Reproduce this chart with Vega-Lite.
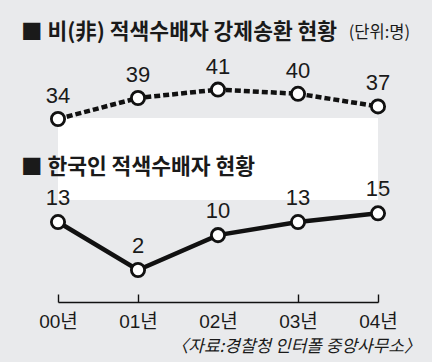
{
  "$schema": "https://vega.github.io/schema/vega-lite/v6.json",
  "width": 320,
  "height": 302,
  "autosize": {"type": "none"},
  "padding": {"left": 58, "top": 0, "right": 54, "bottom": 60},
  "background": "#e9eaec",
  "config": {"view": {"stroke": null}},
  "datasets": {
    "foreign": [
      {"year": "00년", "count": 34},
      {"year": "01년", "count": 39},
      {"year": "02년", "count": 41},
      {"year": "03년", "count": 40},
      {"year": "04년", "count": 37}
    ],
    "korean": [
      {"year": "00년", "count": 13},
      {"year": "01년", "count": 2},
      {"year": "02년", "count": 10},
      {"year": "03년", "count": 13},
      {"year": "04년", "count": 15}
    ]
  },
  "layer": [
    {
      "data": {"values": [{}]},
      "mark": {"type": "rect", "color": "white"},
      "encoding": {
        "x": {"datum": "00년", "type": "ordinal", "scale": {"type": "point", "padding": 0, "domain": ["00년", "01년", "02년", "03년", "04년"]},
          "axis": {
            "title": null,
            "domainColor": "#111",
            "domainWidth": 1.6,
            "tickColor": {"condition": {"test": "datum.value === '02년'", "value": "transparent"}, "value": "#111"},
            "tickWidth": 1.4,
            "tickSize": -8,
            "labelPadding": 18,
            "labelFont": "Liberation Sans, Noto Sans CJK KR",
            "labelFontSize": 19,
            "labelColor": "#1a1a1a",
            "labelAngle": 0,
            "grid": false
          }
        },
        "x2": {"datum": "04년"},
        "y": {"datum": 18.05, "type": "quantitative", "scale": {"domain": [-5.34, 63.93], "nice": false, "zero": false}, "axis": null},
        "y2": {"datum": 36.86}
      }
    },
    {
      "layer": [
        {
          "data": {"name": "foreign"},
          "mark": {"type": "line", "color": "#111", "strokeWidth": 4.5, "strokeDash": [6, 3]},
          "encoding": {
            "x": {"field": "year", "type": "ordinal"},
            "y": {"field": "count", "type": "quantitative"}
          }
        },
        {
          "data": {"name": "foreign"},
          "mark": {"type": "point", "filled": true, "fill": "white", "stroke": "#111", "strokeWidth": 2.8, "size": 175, "opacity": 1},
          "encoding": {
            "x": {"field": "year", "type": "ordinal"},
            "y": {"field": "count", "type": "quantitative"}
          }
        },
        {
          "data": {"name": "foreign"},
          "mark": {"type": "text", "dy": -23, "font": "Liberation Sans", "fontSize": 22, "color": "#1a1a1a", "baseline": "middle"},
          "encoding": {
            "x": {"field": "year", "type": "ordinal"},
            "y": {"field": "count", "type": "quantitative"},
            "text": {"field": "count"}
          }
        },
        {
          "data": {"values": [{"t": "■ 비(非) 적색수배자 강제송환 현황"}]},
          "mark": {"type": "text", "align": "left", "baseline": "middle", "dx": -37, "font": "Noto Sans CJK KR", "fontWeight": "bold", "fontSize": 21.5, "color": "#1a1a1a"},
          "encoding": {
            "x": {"datum": "00년", "type": "ordinal"},
            "y": {"datum": 54.5, "type": "quantitative"},
            "text": {"field": "t"}
          }
        },
        {
          "data": {"values": [{"t": "(단위:명)"}]},
          "mark": {"type": "text", "align": "right", "baseline": "middle", "dx": 32, "font": "Noto Sans CJK KR", "fontSize": 16.5, "color": "#1a1a1a"},
          "encoding": {
            "x": {"datum": "04년", "type": "ordinal"},
            "y": {"datum": 54.5, "type": "quantitative"},
            "text": {"field": "t"}
          }
        }
      ],
      "encoding": {
        "y": {"type": "quantitative", "scale": {"domain": [-9.57, 62.33], "nice": false, "zero": false}, "axis": null}
      }
    },
    {
      "layer": [
        {
          "data": {"name": "korean"},
          "mark": {"type": "line", "color": "#111", "strokeWidth": 4.5},
          "encoding": {
            "x": {"field": "year", "type": "ordinal"},
            "y": {"field": "count", "type": "quantitative"}
          }
        },
        {
          "data": {"name": "korean"},
          "mark": {"type": "point", "filled": true, "fill": "white", "stroke": "#111", "strokeWidth": 2.8, "size": 175, "opacity": 1},
          "encoding": {
            "x": {"field": "year", "type": "ordinal"},
            "y": {"field": "count", "type": "quantitative"}
          }
        },
        {
          "data": {"name": "korean"},
          "mark": {"type": "text", "dy": -24, "font": "Liberation Sans", "fontSize": 22, "color": "#1a1a1a", "baseline": "middle"},
          "encoding": {
            "x": {"field": "year", "type": "ordinal"},
            "y": {"field": "count", "type": "quantitative"},
            "text": {"field": "count"}
          }
        },
        {
          "data": {"values": [{"t": "■ 한국인 적색수배자 현황"}]},
          "mark": {"type": "text", "align": "left", "baseline": "middle", "dx": -37, "font": "Noto Sans CJK KR", "fontWeight": "bold", "fontSize": 21.5, "color": "#1a1a1a"},
          "encoding": {
            "x": {"datum": "00년", "type": "ordinal"},
            "y": {"datum": 25.4, "type": "quantitative"},
            "text": {"field": "t"}
          }
        },
        {
          "data": {"values": [{"t": "〈자료:경찰청 인터폴 중앙사무소〉"}]},
          "mark": {"type": "text", "align": "right", "baseline": "middle", "dx": 43, "font": "Noto Sans CJK KR", "fontSize": 17, "fontStyle": "italic", "color": "#1a1a1a"},
          "encoding": {
            "x": {"datum": "04년", "type": "ordinal"},
            "y": {"datum": -15.66, "type": "quantitative"},
            "text": {"field": "t"}
          }
        }
      ],
      "encoding": {
        "y": {"type": "quantitative", "scale": {"domain": [-5.34, 63.93], "nice": false, "zero": false}, "axis": null}
      }
    }
  ],
  "resolve": {"scale": {"y": "independent"}}
}
